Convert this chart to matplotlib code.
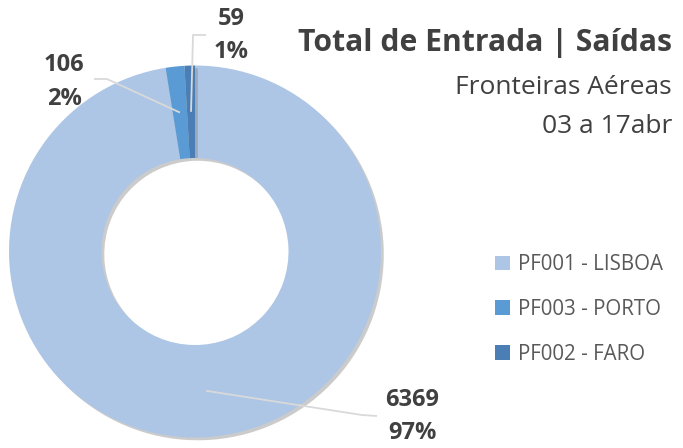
import numpy as np
import matplotlib
matplotlib.use("Agg")
import matplotlib.pyplot as plt
import matplotlib.patheffects as pe

# data
labels = ["PF001 - LISBOA", "PF003 - PORTO", "PF002 - FARO"]
values = [6369, 106, 59]
pct_labels = ["97%", "2%", "1%"]
colors = ["#ADC6E6", "#5B9BD5", "#4A7EB4"]

W, H = 683, 448
plt.rcParams["font.family"] = ["Open Sans", "DejaVu Sans"]

fig = plt.figure(figsize=(W / 100, H / 100), dpi=100)
ax = fig.add_axes([0, 0, 1, 1])

cx, cy = 195, H - 251.5
r_out, r_in = 186, 93.5
shadow = [pe.SimplePatchShadow(offset=(2, -2), shadow_rgbFace="#7F7F7F", alpha=0.4), pe.Normal()]
wedges, _ = ax.pie(values, colors=colors, startangle=90, counterclock=False,
                   center=(cx, cy), radius=r_out,
                   wedgeprops=dict(width=r_out - r_in, linewidth=0, path_effects=shadow))
ax.set_xlim(0, W)
ax.set_ylim(0, H)
ax.set_aspect("equal")
ax.axis("off")

# data labels with leader lines (label position, elbow, end) in pixels from top
label_pos = [(412, 400, 433), (64, 65, 99), (231, 19, 52)]
elbows = [[(362, 415), (377, 416)], [(107, 79), (94, 79)], [(193, 35), (206, 35)]]
r_mid = (r_out + r_in) / 2
for w, v, p, lp, el in zip(wedges, values, pct_labels, label_pos, elbows):
    ang = np.deg2rad((w.theta1 + w.theta2) / 2)
    x0, y0 = cx + r_mid * np.cos(ang), cy + r_mid * np.sin(ang)
    xs = [x0] + [e[0] for e in el]
    ys = [y0] + [H - e[1] for e in el]
    ax.plot(xs, ys, color="#D9D9D9", lw=1.3, solid_capstyle="butt", zorder=3)
    ax.text(lp[0], H - lp[1], f"{v}", ha="center", va="center",
            fontsize=17, fontweight="bold", color="#404040")
    ax.text(lp[0], H - lp[2], p, ha="center", va="center",
            fontsize=17, fontweight="bold", color="#404040")

# title block
ax.text(672, H - 43, "Total de Entrada | Saídas", ha="right", va="center",
        fontsize=21.7, fontweight="bold", color="#404040")
ax.text(672, H - 87, "Fronteiras Aéreas", ha="right", va="center",
        fontsize=19, color="#404040")
ax.text(672, H - 126, "03 a 17abr", ha="right", va="center",
        fontsize=19, color="#404040")

# legend
leg = ax.legend(wedges, labels, loc="upper left", bbox_to_anchor=(487 / W, 1 - 246 / H),
                frameon=False, fontsize=14.8, labelcolor="#595959",
                handlelength=0.7, handleheight=0.7, handletextpad=0.4,
                labelspacing=1.15, borderaxespad=0)
for h in leg.legend_handles:
    h.set_path_effects([])

fig.savefig("out.png", dpi=100)
